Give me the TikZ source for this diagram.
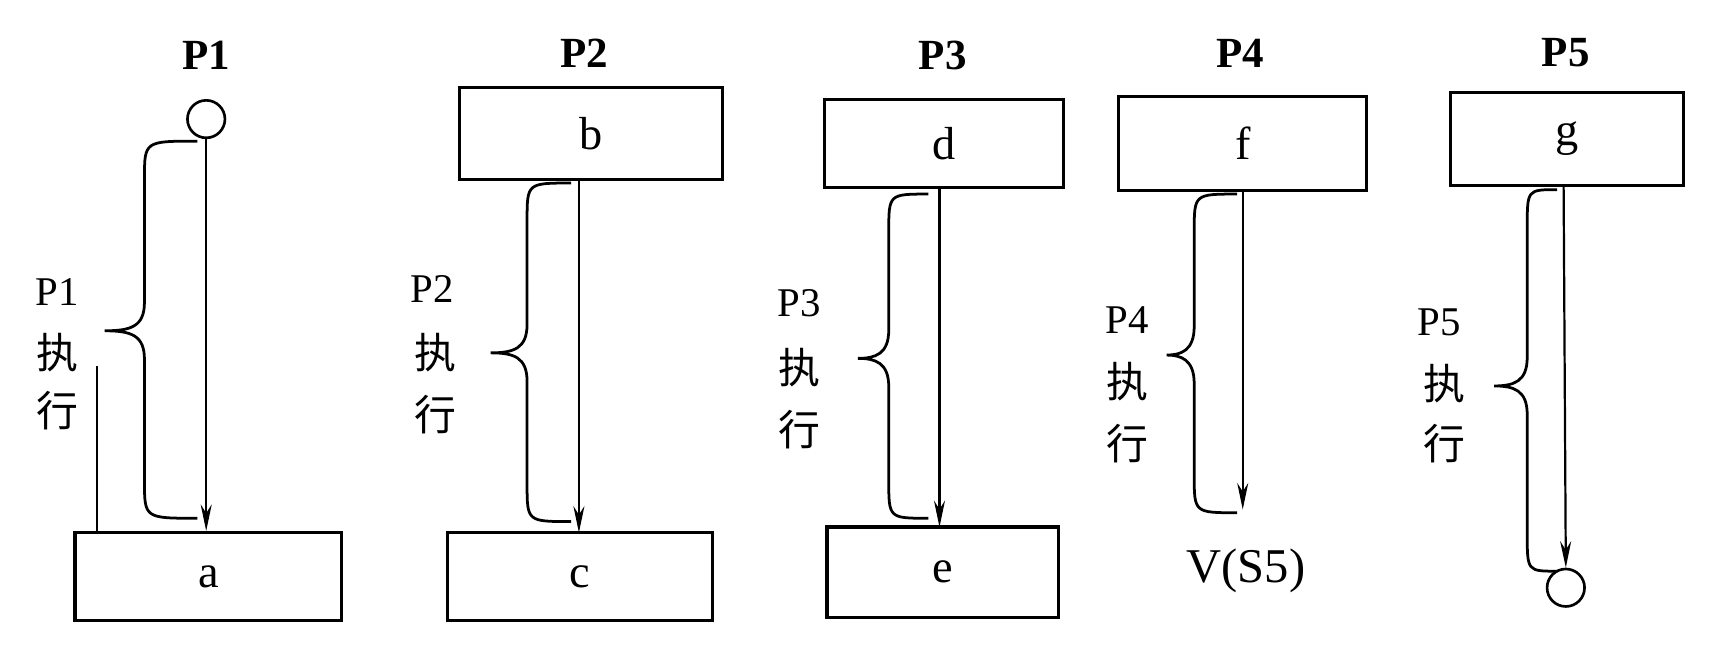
\documentclass[tikz,border=0pt]{standalone}
\usepackage{fontspec}
\setmainfont{Liberation Serif}
\newfontfamily\cjk{Noto Sans CJK SC}
\usetikzlibrary{arrows.meta}
\tikzset{
  title/.style={font=\fontsize{39}{42}\selectfont\bfseries},
  lab/.style={font=\fontsize{37}{40}\selectfont},
  cjklab/.style={font=\fontsize{38}{40}\selectfont\cjk},
  rbox/.style={draw, line width=3pt, inner sep=0pt, font=\fontsize{42}{46}\selectfont},
  circ/.style={draw, circle, line width=2.4pt, minimum size=34pt, inner sep=0pt},
  flow/.style={line width=2pt, -{Stealth[length=24pt,width=10pt]}},
  bracestyle/.style={line width=2.5pt},
  plain/.style={line width=2.6pt}
}
% #1 end x, #2 top y, #3 vertical x, #4 tip x, #5 tip y, #6 bottom y
\newcommand\mybrace[6]{%
  \draw[bracestyle] (#1,#2) .. controls (#3,#2) .. (#3,#2+34) -- (#3,#5-26)
    .. controls (#3,#5-4) and (#3-12,#5) .. (#4,#5)
    .. controls (#3-12,#5) and (#3,#5+4) .. (#3,#5+26)
    -- (#3,#6-34) .. controls (#3,#6) .. (#1,#6);}
\begin{document}
\begin{tikzpicture}[x=1pt,y=-1pt]
\useasboundingbox[fill=white] (0,0) rectangle (1568,593);

% ---------- P1 ----------
\node[title] (t1) at (187,50) {P1};
\node[circ] (s1) at (187,108) {};
\node[rbox, minimum width=242pt, minimum height=80pt] (a) at (189,523) {a};
\draw[flow] (s1.south) -- (s1.south |- a.north);
\mybrace{179}{128}{131}{95}{300}{470}
\node[lab] (l1) at (52,265) {P1};
\node[cjklab] (l1b) at (52,320) {执};
\node[cjklab] (l1c) at (52,372) {行};
\coordinate (st1) at (88,332);
\draw[plain] (st1) -- (st1 |- a.north);

% ---------- P2 ----------
\node[title] (t2) at (530,48) {P2};
\node[rbox, minimum width=239pt, minimum height=83pt] (b) at (536,121) {b};
\node[rbox, minimum width=240pt, minimum height=80pt] (c) at (526,523) {c};
\draw[flow] (525,163) -- (525,483);
\mybrace{518}{166}{478}{445}{320}{473}
\node[lab] (l2) at (392,262) {P2};
\node[cjklab] (l2b) at (395,320) {执};
\node[cjklab] (l2c) at (395,376) {行};

% ---------- P3 ----------
\node[title] (t3) at (855,50) {P3};
\node[rbox, minimum width=217pt, minimum height=80pt] (d) at (856,130) {d};
\node[rbox, minimum width=210pt, minimum height=82pt] (e) at (855,519) {e};
\draw[flow] (852,170) -- (852,478);
\mybrace{842}{176}{806}{778}{325}{470}
\node[lab] (l3) at (725,275) {P3};
\node[cjklab] (l3b) at (725,333) {执};
\node[cjklab] (l3c) at (725,390) {行};

% ---------- P4 ----------
\node[title] (t4) at (1125,48) {P4};
\node[rbox, minimum width=225pt, minimum height=85pt] (f) at (1127,130) {f};
\node[lab, font=\fontsize{44}{46}\selectfont] (v) at (1130,518) {V(S5)};
\coordinate (e4) at (1127,462);
\draw[flow] (1127,173) -- (e4);
\mybrace{1122}{176}{1083}{1058}{322}{465}
\node[lab] (l4) at (1022,290) {P4};
\node[cjklab] (l4b) at (1022,346) {执};
\node[cjklab] (l4c) at (1022,402) {行};

% ---------- P5 ----------
\node[title] (t5) at (1420,48) {P5};
\node[rbox, minimum width=211pt, minimum height=84pt] (g) at (1421,126) {g};
\node[circ] (s5) at (1420,533) {};
\draw[flow] (1418,168) -- (s5.north);
\mybrace{1412}{172}{1385}{1355}{350}{518}
\node[lab] (l5) at (1305,292) {P5};
\node[cjklab] (l5b) at (1310,348) {执};
\node[cjklab] (l5c) at (1310,402) {行};
\end{tikzpicture}
\end{document}
